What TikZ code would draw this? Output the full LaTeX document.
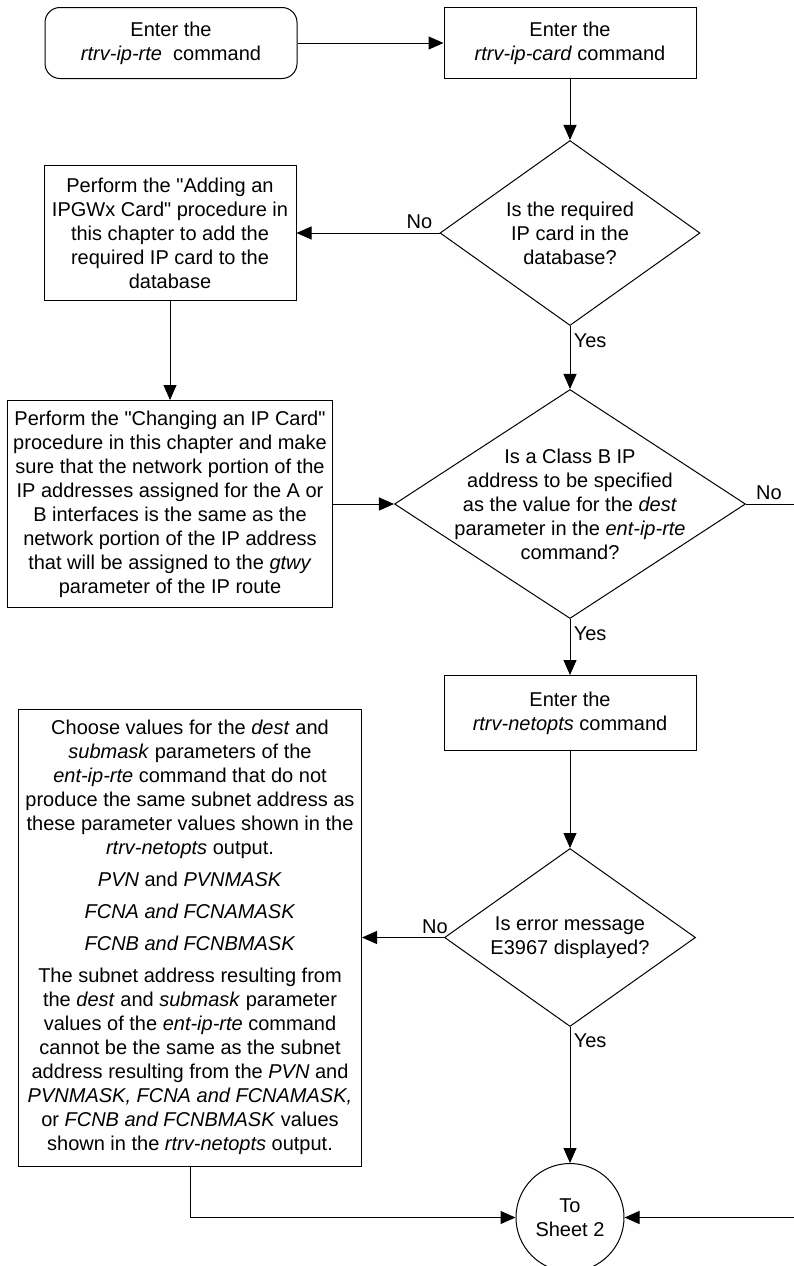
\documentclass[tikz,border=0pt]{standalone}
\usepackage{fontspec}
\setmainfont{Liberation Sans}
\usetikzlibrary{arrows.meta,positioning,shapes.geometric}

\begin{document}
\begin{tikzpicture}[x=1pt,y=1pt,>={Triangle[length=15pt,width=13pt]},line width=1pt,
  every node/.style={font=\fontsize{20}{24}\selectfont},
  box/.style={draw,align=center,inner sep=2pt},
  startbox/.style={box,rounded corners=15pt},
  decision/.style={draw,diamond,inner sep=0pt,label={[align=center]center:#1}},
  sheetlink/.style={draw,circle,align=center,minimum size=108pt,inner sep=0pt}]
\useasboundingbox (0,0) rectangle (794,-1266);
\node[startbox,minimum width=252pt,minimum height=71pt] (start) at (171,-43) {Enter the\\\textit{rtrv-ip-rte}\ \ command};
\node[box,right=146pt of start,minimum width=252pt,minimum height=71pt] (getcard) {Enter the\\\textit{rtrv-ip-card} command};
\node[decision={Is the required\\IP card in the\\database?},below=61pt of getcard,minimum width=260pt,minimum height=185pt] (cardq) {};
\node[box,left=143pt of cardq,minimum width=252pt,minimum height=135pt] (addcard) {Perform the \textquotedbl Adding an\\IPGWx Card\textquotedbl\ procedure in\\this chapter to add the\\required IP card to the\\database};
\node[box,below=99pt of addcard,minimum width=325pt,minimum height=207pt] (changecard) {Perform the \textquotedbl Changing an IP Card\textquotedbl\\procedure in this chapter and make\\sure that the network portion of the\\IP addresses assigned for the A or\\B interfaces is the same as the\\network portion of the IP address\\that will be assigned to the \textit{gtwy}\\parameter of the IP route};
\node[decision={Is a Class B IP\\address to be specified\\as the value for the \textit{dest}\\parameter in the \textit{ent-ip-rte}\\command?},below=63pt of cardq,minimum width=351pt,minimum height=229pt] (classq) {};
\node[box,below=56pt of classq,minimum width=252pt,minimum height=75pt] (netopts) {Enter the\\\textit{rtrv-netopts} command};
\node[decision={Is error message\\E3967 displayed?},below=97pt of netopts,minimum width=251pt,minimum height=178pt] (errq) {};
\node[box,left=82pt of errq,minimum width=343pt,minimum height=457pt] (choose) {Choose values for the \textit{dest} and\\\textit{submask} parameters of the\\\textit{ent-ip-rte} command that do not\\produce the same subnet address as\\these parameter values shown in the\\\textit{rtrv-netopts} output.\\[8pt]
\textit{PVN} and \textit{PVNMASK}\\[8pt]
\textit{FCNA and FCNAMASK}\\[8pt]
\textit{FCNB and FCNBMASK}\\[8pt]
The subnet address resulting from\\the \textit{dest} and \textit{submask} parameter\\values of the \textit{ent-ip-rte} command\\cannot be the same as the subnet\\address resulting from the \textit{PVN} and\\\textit{PVNMASK, FCNA and FCNAMASK,}\\or \textit{FCNB and FCNBMASK} values\\shown in the \textit{rtrv-netopts} output.};
\node[sheetlink,below=136pt of errq] (sheet2) {To\\Sheet 2};
\coordinate (rimtop) at ([xshift=50pt]classq.east);
\coordinate (rimbot) at (rimtop |- sheet2);
% connectors
\draw[->] (start)--(getcard);
\draw[->] (getcard)--(cardq);
\draw[->] (cardq)--node[above,pos=0.14]{No}(addcard);
\draw[->] (cardq)--node[right,pos=0.24]{Yes}(classq);
\draw[->] (addcard)--(changecard);
\draw[->] (changecard)--(classq);
\draw (classq.east)--node[above,pos=0.46]{No}(rimtop);
\draw[->] (classq)--node[right,pos=0.27]{Yes}(netopts);
\draw[->] (netopts)--(errq);
\draw[->] (errq)--node[above,pos=0.11]{No}(choose);
\draw[->] (errq)--node[right,pos=0.1]{Yes}(sheet2);
\draw[->] (choose.south)|-(sheet2);
\draw[->] (rimbot)--(sheet2);
\end{tikzpicture}
\end{document}
